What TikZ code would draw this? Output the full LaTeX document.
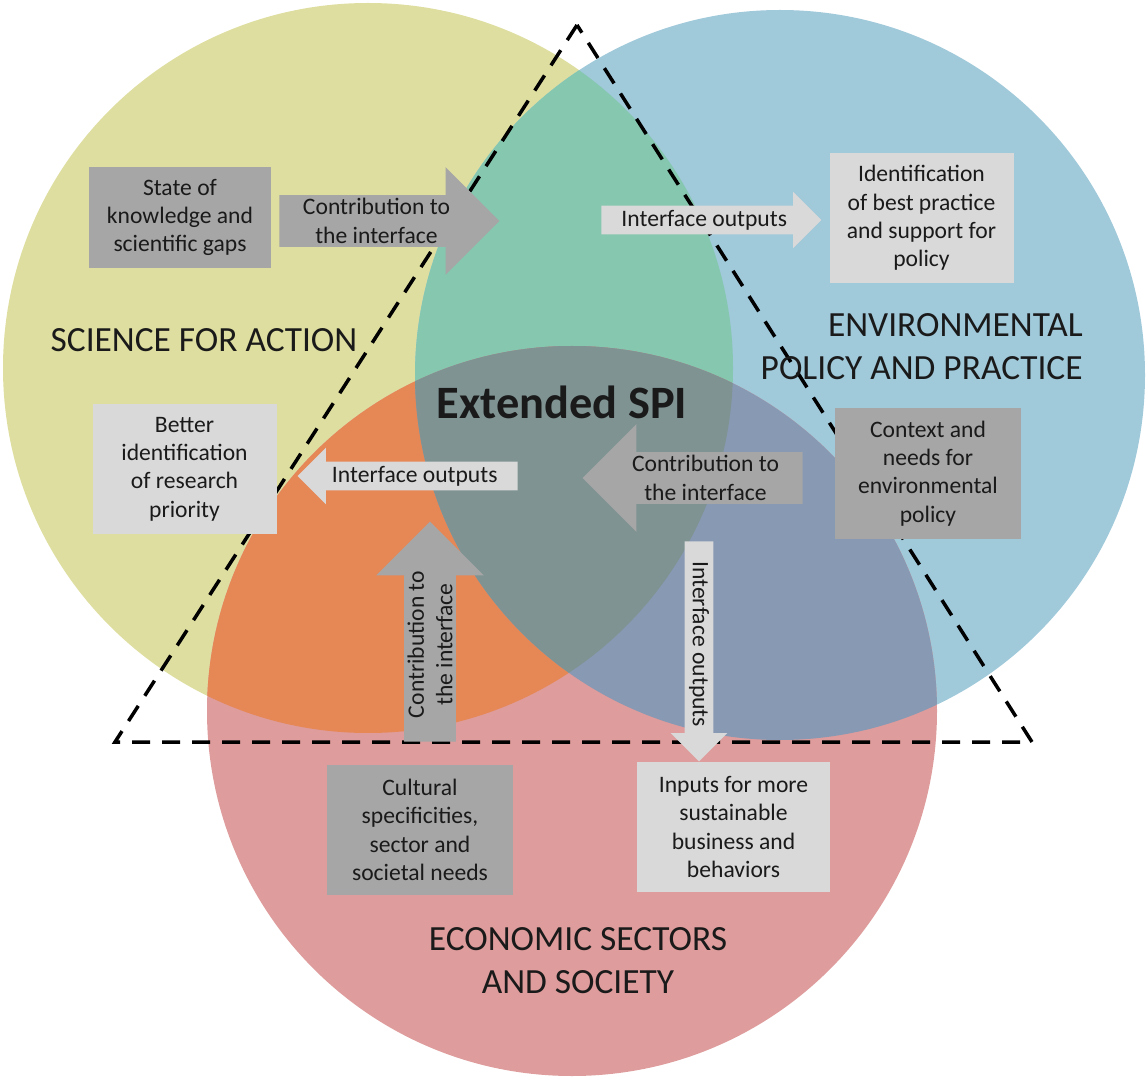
\documentclass[tikz,border=0pt]{standalone}
\usepackage{fontspec}
\setmainfont{Carlito}
\usetikzlibrary{shapes.arrows}
\definecolor{scifill}{HTML}{DEDEA0}
\definecolor{envfill}{HTML}{A0C9DA}
\definecolor{ecofill}{HTML}{DE9C9C}
\definecolor{scienv}{HTML}{85C7AF}
\definecolor{scieco}{HTML}{E68756}
\definecolor{enveco}{HTML}{8799B3}
\definecolor{spifill}{HTML}{7F9392}
\definecolor{boxdark}{HTML}{A6A6A6}
\definecolor{boxlight}{HTML}{D9D9D9}
\definecolor{txt}{HTML}{1A1A1A}
\begin{document}
\begin{tikzpicture}[x=0.5pt,y=-0.5pt,
	every node/.style={text=txt,font=\fontsize{11.8}{14.2}\selectfont},
	darkbox/.style={fill=boxdark,align=center,inner sep=0pt},
	lightbox/.style={fill=boxlight,align=center,inner sep=0pt},
	box3/.style={minimum width=91pt,minimum height=50.5pt},
	box4/.style={minimum width=92pt,minimum height=65pt},
	darkarrow/.style={single arrow,fill=boxdark,align=center,minimum height=110pt,
		single arrow head extend=14pt,inner xsep=2pt,inner ysep=1.5pt},
	lightarrow/.style={single arrow,fill=boxlight,minimum height=110pt,
		single arrow head extend=7pt,inner xsep=2pt,inner ysep=2pt},
	title/.style={inner sep=0pt,font=\fontsize{17.7}{21.5}\selectfont}]
	\useasboundingbox (0,0) rectangle (1146,1080);
	\def\rad{182.5pt}
	\coordinate (sciC) at (368,368);
	\coordinate (envC) at (780,375);
	\coordinate (ecoC) at (572,711);
	% circles and overlaps
	\fill[scifill] (sciC) circle (\rad);
	\fill[envfill] (envC) circle (\rad);
	\fill[ecofill] (ecoC) circle (\rad);
	\begin{scope}
		\clip (sciC) circle (\rad);
		\fill[scienv] (envC) circle (\rad);
		\fill[scieco] (ecoC) circle (\rad);
	\end{scope}
	\begin{scope}
		\clip (envC) circle (\rad);
		\fill[enveco] (ecoC) circle (\rad);
		\clip (sciC) circle (\rad);
		\fill[spifill] (ecoC) circle (\rad);
	\end{scope}
	% dashed triangle
	\coordinate (T1) at (577,25);
	\coordinate (T2) at (115,742);
	\coordinate (T3) at (1032,742);
	\draw[line width=1.75pt,dash pattern=on 9pt off 6pt] (T1)--(T2)--(T3)--cycle;
	% boxes
	\node[darkbox,box3] (gaps) at (180,217.5) {State of\\knowledge and\\scientific gaps};
	\node[lightbox,box4] (practice) at (921.5,218) {Identification\\of best practice\\and support for\\policy};
	\node[lightbox,box4] (priority) at (184.5,469) {Better\\identification\\of research\\priority};
	\node[darkbox,box4,minimum width=93pt] (needs) at (928,473.5) {Context and\\needs for\\environmental\\policy};
	\node[darkbox,box4,minimum width=93pt] (cultural) at (420,830) {Cultural\\specificities,\\sector and\\societal needs};
	\node[lightbox,box4,minimum width=96.5pt] (inputs) at (733.5,827) {Inputs for more\\sustainable\\business and\\behaviors};
	% block arrows
	\node[darkarrow,anchor=tip] (contribA) at (500,221) {Contribution to\\the interface};
	\node[lightarrow,anchor=tip] (outA) at (822,220) {Interface outputs};
	\node[lightarrow,shape border rotate=180,anchor=tip] (outB) at (297,476) {Interface outputs};
	\node[darkarrow,shape border rotate=180,anchor=tip] (contribB) at (582,478) {Contribution to\\the interface};
	\node[lightarrow,rotate=-90,anchor=tip] (outC) at (699,762) {Interface outputs};
	\node[darkarrow,rotate=90,anchor=tip] (contribC) at (430,521) {Contribution to\\the interface};
	% titles
	\node[title] (sci) at (204,340) {SCIENCE FOR ACTION};
	\node[title,align=right,anchor=east] (env) at (1083,347) {ENVIRONMENTAL\\POLICY AND PRACTICE};
	\node[title,align=center] (eco) at (578,961) {ECONOMIC SECTORS\\AND SOCIETY};
	\node[font=\bfseries\fontsize{23.2}{27}\selectfont] (spi) at (562,402) {Extended SPI};
\end{tikzpicture}
\end{document}
